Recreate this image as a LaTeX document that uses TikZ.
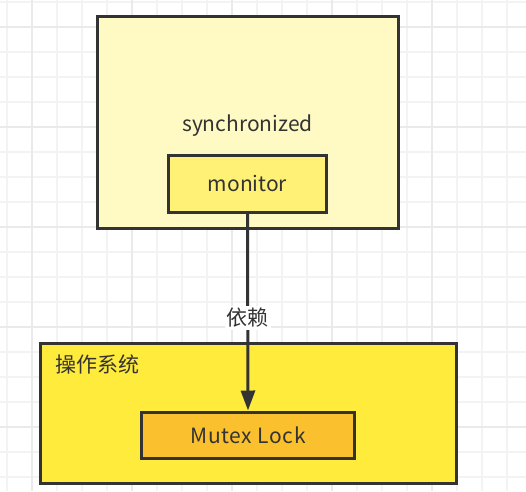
\documentclass[tikz,border=0pt]{standalone}
\usepackage{fontspec}
\setmainfont{Noto Sans CJK SC}
\usepackage{tikz}
\usetikzlibrary{arrows.meta, positioning}
\definecolor{gridminor}{HTML}{F3F3F3}
\definecolor{gridmajor}{HTML}{EAEAEA}
\definecolor{stroke}{HTML}{333333}
\definecolor{paleyellow}{HTML}{FFF9C4}
\definecolor{lightyellow}{HTML}{FFF176}
\definecolor{brightyellow}{HTML}{FFEB3B}
\definecolor{amber}{HTML}{FBC02D}
\tikzset{
    box/.style = {draw=stroke, line width=3pt, text=stroke, inner sep=0pt},
    deparrow/.style = {draw=stroke, line width=3pt, -{Triangle[length=20pt, width=14pt]}}
}

\begin{document}
\begin{tikzpicture}[x=1pt, y=-1pt, font=\fontsize{21}{25}\selectfont]

\useasboundingbox (0,0) rectangle (526,491);
\fill[white] (0,0) rectangle (526,491);

% grid
\foreach \x in {7,32,...,507}
    \draw[gridminor, line width=1.5pt] (\x,0) -- (\x,491);
\foreach \y in {2,27,...,477}
    \draw[gridminor, line width=1.5pt] (0,\y) -- (526,\y);
\foreach \x in {32,132,...,432}
    \draw[gridmajor, line width=1.5pt] (\x,0) -- (\x,491);
\foreach \y in {27,127,...,427}
    \draw[gridmajor, line width=1.5pt] (0,\y) -- (526,\y);

\node [box,
    fill=paleyellow,
    minimum width=301pt,
    minimum height=212pt
] (sync) at (247.5,122) {};

\node [box,
    fill=lightyellow,
    minimum width=158pt,
    minimum height=57pt,
    above=16pt of sync.south
] (monitor) {\raisebox{-4pt}{monitor}};

\node [text=stroke] (synclabel) at (247.5,126) {synchronized};

\node [box,
    fill=brightyellow,
    minimum width=416pt,
    minimum height=140pt
] (os) at (248,413) {};

\node [text=stroke, anchor=north west] (oslabel) at ([shift={(13pt,-10pt)}]os.north west) {操作系统};

\node [box,
    fill=amber,
    minimum width=213pt,
    minimum height=46pt,
    above=25pt of os.south
] (mutex) {\raisebox{-3pt}{\addfontfeature{LetterSpace=3}Mutex Lock}};

\draw[deparrow] (monitor.south) -- (mutex.north)
    node[pos=0.53, fill=white, text=stroke, inner sep=2pt] (dep) {依赖};

\end{tikzpicture}
\end{document}
